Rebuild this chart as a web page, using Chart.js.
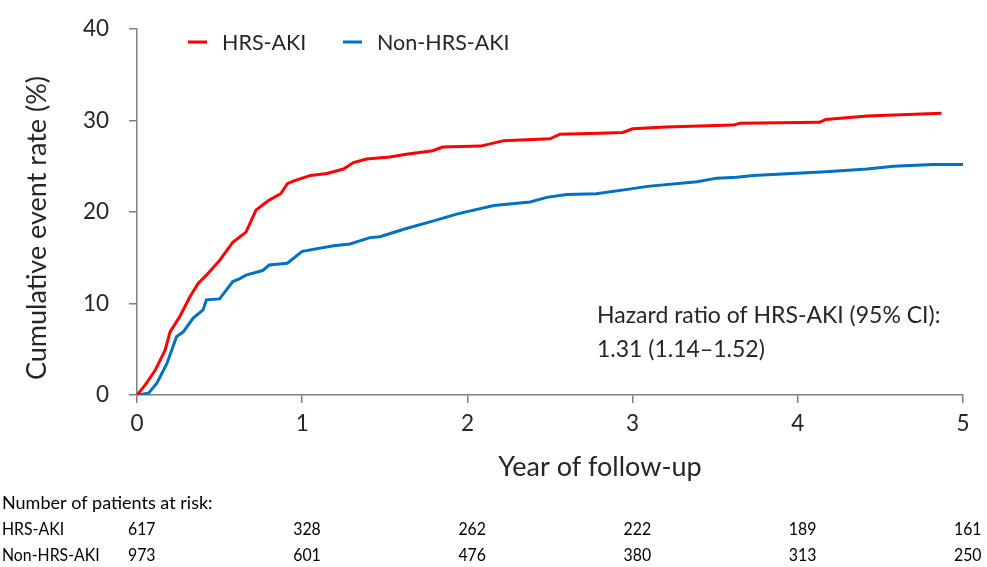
<html lang="en">
  <head>
    <meta charset="utf-8"/>
    <style>
      body { margin: 0; background: #fff; }
      #wrap { width: 987px; height: 567px; }
    </style>
  </head>
<body>
<div id="wrap">
  <canvas id="myChart" width="987" height="567"></canvas>
</div>

<script src="https://cdn.jsdelivr.net/npm/chart.js"></script>

<script>
  // cumulative event rate curves (year, %)
  var hrsYears = [0, 0.05, 0.11, 0.17, 0.20, 0.26, 0.32, 0.37, 0.42, 0.50, 0.58, 0.66, 0.72, 0.80, 0.87, 0.91, 0.95, 1.05, 1.15, 1.25, 1.31, 1.39, 1.53, 1.63, 1.79, 1.85, 2.08, 2.22, 2.50, 2.56, 2.80, 2.94, 3.00, 3.20, 3.61, 3.65, 4.13, 4.17, 4.42, 4.87];
  var hrsRate  = [0, 1.1, 2.7, 4.9, 6.9, 8.6, 10.7, 12.2, 13.1, 14.7, 16.7, 17.8, 20.2, 21.3, 22.0, 23.1, 23.4, 24.0, 24.2, 24.7, 25.4, 25.8, 26.0, 26.3, 26.7, 27.1, 27.2, 27.8, 28.0, 28.5, 28.6, 28.7, 29.1, 29.3, 29.5, 29.7, 29.8, 30.1, 30.5, 30.8];

  var nonYears = [0, 0.07, 0.12, 0.18, 0.24, 0.28, 0.34, 0.40, 0.42, 0.50, 0.58, 0.62, 0.66, 0.76, 0.80, 0.91, 1.00, 1.19, 1.29, 1.41, 1.47, 1.63, 1.79, 1.94, 2.16, 2.38, 2.48, 2.60, 2.78, 2.98, 3.09, 3.39, 3.51, 3.63, 3.73, 4.17, 4.42, 4.58, 4.82, 5.00];
  var nonRate  = [0, 0.2, 1.3, 3.4, 6.4, 6.9, 8.4, 9.3, 10.4, 10.5, 12.4, 12.7, 13.1, 13.6, 14.2, 14.4, 15.7, 16.3, 16.5, 17.2, 17.3, 18.2, 19.0, 19.8, 20.7, 21.1, 21.6, 21.9, 22.0, 22.5, 22.8, 23.3, 23.7, 23.8, 24.0, 24.4, 24.7, 25.0, 25.2, 25.2];

  // patients at risk
  var riskYears = [0, 1, 2, 3, 4, 5];
  var riskHrs = [617, 328, 262, 222, 189, 161];
  var riskNon = [973, 601, 476, 380, 313, 250];

  var seriesNames = ["HRS-AKI", "Non-HRS-AKI"];
  var seriesColors = ["#ff0000", "#0070c0"];

  function pairs(xs, ys) {
    var out = [];
    for (var i = 0; i < xs.length; i++) out.push({ x: xs[i], y: ys[i] });
    return out;
  }

  var FONT = "Lato";
  var TXT = "#262626";

  var extras = {
    id: "extras",
    afterDraw: function (chart) {
      var c = chart.ctx;
      var xs = chart.scales.x;
      c.save();
      c.textBaseline = "middle";
      c.fillStyle = TXT;
      // axis titles
      c.font = "27px " + FONT;
      c.textAlign = "center";
      c.fillText("Year of follow-up", 600, 467);
      c.save();
      c.translate(37, 228);
      c.rotate(-Math.PI / 2);
      c.fillText("Cumulative event rate (%)", 0, 0);
      c.restore();
      // legend
      c.font = "21.5px " + FONT;
      var lx = [188, 343];
      for (var i = 0; i < 2; i++) {
        c.strokeStyle = seriesColors[i];
        c.lineWidth = 3;
        c.beginPath();
        c.moveTo(lx[i], 42);
        c.lineTo(lx[i] + 19, 42);
        c.stroke();
        c.fillStyle = TXT;
        c.textAlign = "left";
        c.fillText(seriesNames[i], lx[i] + 34, 43);
      }
      // hazard ratio
      c.font = "23px " + FONT;
      c.fillText("Hazard ratio of HRS-AKI (95% CI):", 597, 316);
      c.fillText("1.31 (1.14\u20131.52)", 597, 350);
      // risk table
      c.font = "18px " + FONT;
      c.fillStyle = "#000";
      c.textAlign = "left";
      c.fillText("Number of patients at risk:", 2, 503);
      function narrow(t, x, y) {
        c.save();
        c.translate(x, y);
        c.scale(0.88, 1);
        c.fillText(t, 0, 0);
        c.restore();
      }
      narrow(seriesNames[0], 2, 529);
      narrow(seriesNames[1], 2, 555);
      for (var j = 0; j < riskYears.length; j++) {
        var ax = xs.getPixelForValue(riskYears[j]) - 9;
        narrow(String(riskHrs[j]), ax, 529);
        narrow(String(riskNon[j]), ax, 555);
      }
      c.restore();
    },
  };

  var ctx = document.getElementById("myChart");
  var myChart = new Chart(ctx, {
    type: "line",
    data: {
      datasets: [
        {
          label: seriesNames[0],
          data: pairs(hrsYears, hrsRate),
          borderColor: seriesColors[0],
          borderWidth: 3,
          pointRadius: 0,
          tension: 0,
        },
        {
          label: seriesNames[1],
          data: pairs(nonYears, nonRate),
          borderColor: seriesColors[1],
          borderWidth: 3,
          pointRadius: 0,
          tension: 0,
        },
      ],
    },
    options: {
      responsive: false,
      animation: false,
      layout: { padding: { left: 17, right: 24, top: 29, bottom: 80 } },
      plugins: {
        legend: { display: false },
        tooltip: { enabled: false },
      },
      scales: {
        x: {
          type: "linear",
          min: 0,
          max: 5,
          afterFit: function (s) { s.height = 92; },
          ticks: { stepSize: 1, color: TXT, font: { family: FONT, size: 22.5 }, padding: 7 },
          grid: { drawOnChartArea: false, drawTicks: true, tickLength: 8, color: "#808080", lineWidth: 1.5 },
          border: { color: "#808080", width: 1.5 },
          title: { display: false },
        },
        y: {
          min: 0,
          max: 40,
          afterFit: function (s) { s.width = 120; s.paddingTop = 0; s.paddingBottom = 0; },
          ticks: { stepSize: 10, color: TXT, font: { family: FONT, size: 22.5 }, padding: 20 },
          grid: { drawOnChartArea: false, drawTicks: true, tickLength: 8, color: "#808080", lineWidth: 1.5 },
          border: { color: "#808080", width: 1.5 },
          title: { display: false },
        },
      },
    },
    plugins: [extras],
  });
</script>
</body>
</html>
